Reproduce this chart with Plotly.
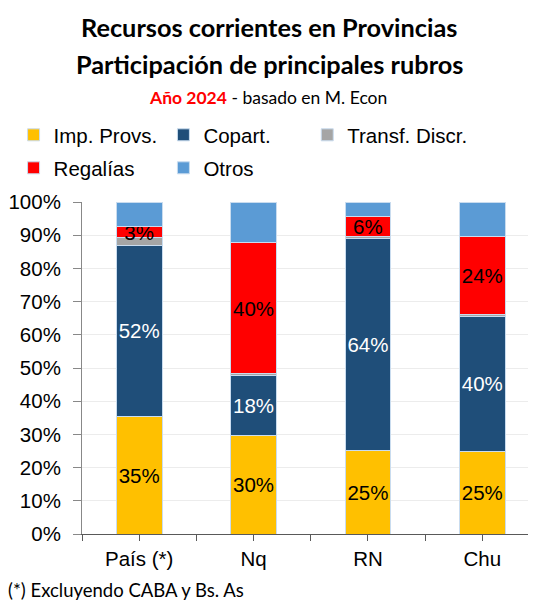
import plotly.graph_objects as go

categories = ["País (*)", "Nq", "RN", "Chu"]
imp_provs = [35.4, 29.6, 25.3, 25.0]
copart = [51.6, 18.2, 63.6, 40.4]
transf_discr = [2.3, 0.4, 0.6, 0.6]
regalias = [3.3, 39.5, 6.1, 23.6]
otros = [7.4, 12.3, 4.4, 10.4]

# page has an 8px body margin: build the figure 8px smaller and shift targets
OFF = 8
W, H = 536 - OFF, 601 - OFF
# target plot area in page pixels (plot runs past the right edge in the reference)
PX0, PX1, PY0, PY1 = 81.5, 536, 202, 534
CAT_W = 114.5
L, R = PX0 - OFF, W - (PX1 - OFF)
T, B = PY0 - OFF, H - (PY1 - OFF)
PW, PH = W - L - R, H - T - B

def px(x):
    return (x - OFF - L) / PW

def py(y):
    return (H - B - (y - OFF)) / PH

ARIAL = "Arial"
CALIBRI = "Lato"
FS = 20.5

pos = list(range(len(categories)))
x_hi = -0.5 + (PX1 - PX0) / CAT_W

series = [
    ("Imp. Provs.", imp_provs, "#FFC000", True, "black", "legend", 38, 135),
    ("Copart.", copart, "#1F4E79", True, "white", "legend2", 188, 135),
    ("Transf. Discr.", transf_discr, "#A5A5A5", False, "black", "legend3", 332, 135),
    ("Regalías", regalias, "#FF0000", True, "black", "legend4", 38, 168),
    ("Otros", otros, "#5B9BD5", False, "black", "legend5", 188, 168),
]

fig = go.Figure()
legends = {}
for name, vals, color, show_text, tcolor, leg, lx, ly in series:
    fig.add_trace(go.Bar(
        name=name, x=pos, y=vals,
        marker=dict(color=color, line=dict(color="#c9dcef", width=1)),
        width=0.4,
        text=[f"{v:.0f}%" for v in vals] if show_text else None,
        textposition="inside" if show_text else "none",
        insidetextanchor="middle",
        textangle=0,
        constraintext="none",
        textfont=dict(family=ARIAL, size=FS, color=tcolor),
        legend=leg,
        hoverinfo="skip",
    ))
    legends[leg] = dict(
        x=px(lx - 25), y=py(ly),
        orientation="h", xanchor="left", yanchor="middle",
        font=dict(family=ARIAL, size=FS, color="black"),
        bgcolor="rgba(0,0,0,0)", itemclick=False, itemdoubleclick=False,
    )

fig.update_layout(
    width=W, height=H,
    margin=dict(l=L, r=R, t=T, b=B, autoexpand=False),
    paper_bgcolor="white", plot_bgcolor="white",
    barmode="stack",
    uniformtext=dict(minsize=FS, mode="show"),
    showlegend=True,
    xaxis=dict(
        range=[-0.5, x_hi],
        tickmode="array", tickvals=pos, ticktext=categories,
        showline=True, linecolor="#595959", linewidth=1,
        ticks="outside", ticklen=6, tickcolor="#595959",
        minor=dict(tickmode="array", tickvals=[p - 0.5 for p in pos] + [pos[-1] + 0.5],
                   ticks="outside", ticklen=6, tickcolor="#595959", showgrid=False),
        tickfont=dict(family=ARIAL, size=FS, color="black"),
        showgrid=False, zeroline=False, automargin=False,
    ),
    yaxis=dict(
        range=[0, 100], dtick=10, ticksuffix="%",
        showline=True, linecolor="#888888", linewidth=1,
        ticks="outside", ticklen=8, tickcolor="#888888",
        ticklabelstandoff=8,
        tickfont=dict(family=ARIAL, size=FS, color="black"),
        showgrid=True, gridcolor="#ececec", gridwidth=1,
        zeroline=False, automargin=False,
    ),
    annotations=[
        dict(text="<b>Recursos corrientes en Provincias</b>", x=px(269), y=py(27),
             xref="paper", yref="paper", showarrow=False, xanchor="center", yanchor="middle",
             font=dict(family=CALIBRI, size=25.3, color="black")),
        dict(text="<b>Participación de principales rubros</b>", x=px(269), y=py(64),
             xref="paper", yref="paper", showarrow=False, xanchor="center", yanchor="middle",
             font=dict(family=CALIBRI, size=25.3, color="black")),
        dict(text="<b><span style='color:#FF0000'>Año 2024</span></b> - basado en M. Econ",
             x=px(268), y=py(97),
             xref="paper", yref="paper", showarrow=False, xanchor="center", yanchor="middle",
             font=dict(family=CALIBRI, size=17.5, color="black")),
        dict(text="(*) Excluyendo CABA y Bs. As", x=px(5), y=py(590),
             xref="paper", yref="paper", showarrow=False, xanchor="left", yanchor="middle",
             font=dict(family=CALIBRI, size=18.5, color="black")),
    ],
    **legends,
)

fig.write_html("out.html")
